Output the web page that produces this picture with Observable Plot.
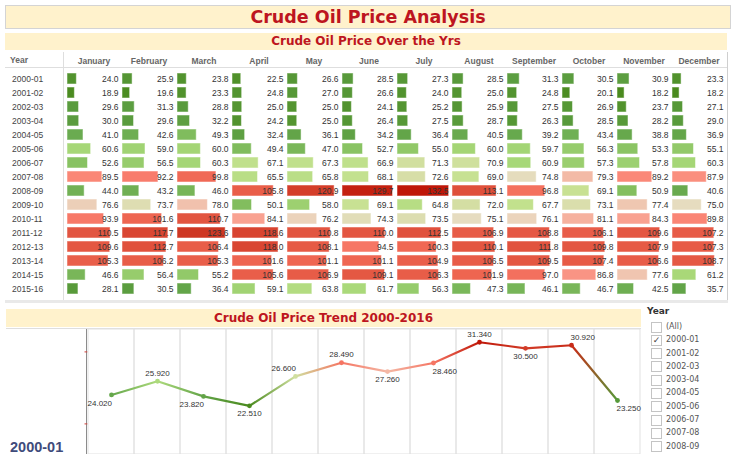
<!DOCTYPE html>
<html><head><meta charset="utf-8">
<script src="https://cdn.jsdelivr.net/npm/d3@7"></script>
<script src="https://cdn.jsdelivr.net/npm/@observablehq/plot@0.6"></script>
<style>
body{margin:0;width:736px;height:454px;overflow:hidden;background:#fff;position:relative;font-family:"DejaVu Sans",sans-serif;}
.abs{position:absolute;}
#title{left:5px;top:5px;width:724px;height:22px;background:#fff2cc;border:1px solid #d4d4d4;color:#bd1520;font:bold 17.5px "DejaVu Sans";text-align:center;line-height:22px;}
.bar{background:#fff2cc;color:#bd1520;font:bold 12px "DejaVu Sans";text-align:center;}
#sub{left:5px;top:33px;width:722px;height:17px;line-height:17px;}
#sub2{left:6px;top:309px;width:635px;height:18px;line-height:18px;}
.line{position:absolute;background:#dedede;}
#yearHead{left:10px;top:55px;font:bold 8.5px "Liberation Sans",Arial,sans-serif;color:#666;}
#bigYear{left:10px;top:439px;font:bold 14.5px "Liberation Sans",Arial,sans-serif;color:#3f4b7b;line-height:16px;}
#legend{left:647px;top:306px;width:89px;font-family:"DejaVu Sans";}
#legend .h{font:bold 9px "DejaVu Sans";color:#333;height:14px;}
#legend .it{height:13.3px;position:relative;font:8px "DejaVu Sans";color:#555;line-height:13.3px;}
#legend .box{position:absolute;left:4px;top:1.5px;width:9px;height:9px;border:1px solid #c4c4c4;background:#fff;font:9px "DejaVu Sans";line-height:9px;text-align:center;color:#444;}
#legend .lab{position:absolute;left:19px;top:0;}
</style></head>
<body>
<div id="title" class="abs">Crude Oil Price Analysis</div>
<div id="sub" class="abs bar">Crude Oil Price Over the Yrs</div>
<div id="tableHost" class="abs" style="left:0;top:52px;"></div>
<div class="line" style="left:63px;top:52px;width:1px;height:249px;"></div>
<div class="line" style="left:5px;top:67px;width:722px;height:1px;"></div>
<div class="line" style="left:727px;top:52px;width:1px;height:250px;background:#cfcfcf;"></div>
<div class="line" style="left:5px;top:300px;width:723px;height:3px;background:#e9e9e9;"></div>
<div id="yearHead" class="abs">Year</div>
<div id="sub2" class="abs bar">Crude Oil Price Trend 2000-2016</div>
<div class="line" style="left:6px;top:328px;width:635px;height:1px;"></div>
<div class="line" style="left:86px;top:329px;width:1px;height:125px;background:#8c8c8c;"></div>
<div id="trendHost" class="abs" style="left:0;top:328px;"></div>
<div id="bigYear" class="abs"></div>
<div id="legend" class="abs"></div>
<script>
// ---------- data ----------
const years = ["2000-01","2001-02","2002-03","2003-04","2004-05","2005-06","2006-07","2007-08",
  "2008-09","2009-10","2010-11","2011-12","2012-13","2013-14","2014-15","2015-16"];
const months = ["January","February","March","April","May","June","July","August",
  "September","October","November","December"];
const prices = [
  [24.0, 25.9, 23.8, 22.5, 26.6, 28.5, 27.3, 28.5, 31.3, 30.5, 30.9, 23.3],
  [18.9, 19.6, 23.3, 24.8, 27.0, 26.6, 24.0, 25.0, 24.8, 20.1, 18.2, 18.2],
  [29.6, 31.3, 28.8, 25.0, 25.0, 24.1, 25.2, 25.9, 27.5, 26.9, 23.7, 27.1],
  [30.0, 29.6, 32.2, 24.2, 25.0, 26.4, 27.5, 28.7, 26.3, 28.5, 28.2, 29.0],
  [41.0, 42.6, 49.3, 32.4, 36.1, 34.2, 36.4, 40.5, 39.2, 43.4, 38.8, 36.9],
  [60.6, 59.0, 60.0, 49.4, 47.0, 52.7, 55.0, 60.0, 59.7, 56.3, 53.3, 55.1],
  [52.6, 56.5, 60.3, 67.1, 67.3, 66.9, 71.3, 70.9, 60.9, 57.3, 57.8, 60.3],
  [89.5, 92.2, 99.8, 65.5, 65.8, 68.1, 72.6, 69.0, 74.8, 79.3, 89.2, 87.9],
  [44.0, 43.2, 46.0, 105.8, 120.9, 129.7, 132.5, 113.1, 96.8, 69.1, 50.9, 40.6],
  [76.6, 73.7, 78.0, 50.1, 58.0, 69.1, 64.8, 72.0, 67.7, 73.1, 77.4, 75.0],
  [93.9, 101.6, 110.7, 84.1, 76.2, 74.3, 73.5, 75.1, 76.1, 81.1, 84.3, 89.8],
  [110.5, 117.7, 123.6, 118.6, 110.8, 110.0, 112.5, 106.9, 108.8, 106.1, 109.6, 107.2],
  [109.6, 112.7, 106.4, 118.0, 108.1, 94.5, 100.3, 110.1, 111.8, 109.8, 107.9, 107.3],
  [105.3, 106.2, 105.3, 101.6, 101.1, 101.1, 104.9, 106.5, 109.5, 107.4, 106.6, 108.7],
  [46.6, 56.4, 55.2, 105.6, 106.9, 109.1, 106.3, 101.9, 97.0, 86.8, 77.6, 61.2],
  [28.1, 30.5, 36.4, 59.1, 63.8, 61.7, 56.3, 47.3, 46.1, 46.7, 42.5, 35.7]
];
const trendYear = "2000-01";
const trendValues = [24.02, 25.92, 23.82, 22.51, 26.60, 28.49, 27.26, 28.46, 31.34, 30.50, 30.92, 23.25];
const yTicks = [20, 30];
const legendItems = ["(All)", "2000-01","2001-02","2002-03","2003-04","2004-05","2005-06","2006-07","2007-08","2008-09"];

// ---------- diverging palette (red-green), stops in normalized units -1..1 ----------
const paletteT = [-1,-0.8,-0.6,-0.4,-0.25,-0.12,-0.05,0,0.05,0.15,0.27,0.45,0.62,0.76,0.86,1];
const paletteC = ["#4a8a1e","#5a9c3e","#6aab50","#88c262","#a8d878","#c5e290","#d6dea6","#e8dcc2",
  "#f2bfab","#f9a392","#fa8070","#ef6652","#e25540","#d84430","#cc3420","#bf1708"];
function colorOpts(vals){
  const lo = d3.min(vals), hi = d3.max(vals), mid = (lo+hi)/2, half = (hi-lo)/2;
  return {type:"linear", domain: paletteT.map(t => mid + t*half), range: paletteC, interpolate:"rgb", clamp:true};
}

// ---------- table ----------
const rows = [];
years.forEach((y,i) => months.forEach((m,j) => rows.push({year:y, month:m, value:prices[i][j]})));
const tableColor = colorOpts(rows.map(d=>d.value));

const table = Plot.plot({
  width: 736, height: 250,
  marginLeft: 65.5, marginRight: 9, marginTop: 15.5, marginBottom: 1.5,
  style: {background:"none", fontFamily:"Liberation Sans, Arial, sans-serif", fontSize:"8.5px", color:"#444"},
  fx: {domain: months, paddingInner: 0.04, paddingOuter: 0, axis: null, label: null},
  x: {domain: [0, 136], axis: null},
  y: {domain: years, padding: 0.2, axis: null},
  color: tableColor,
  marks: [
    Plot.axisFx({anchor:"top", tickSize:0, tickPadding:4, label:null, fill:"#666", fontSize:8.5, fontWeight:"bold"}),
    Plot.axisY({tickSize:0, tickPadding:0, textAnchor:"start", dx:-55.5, label:null, fill:"#444", fontSize:8.5}),
    Plot.barX(rows, {fx:"month", y:"year", x:"value", fill:"value", stroke:"#fff", strokeOpacity:0.5, strokeWidth:1}),
    Plot.text(rows, {fx:"month", y:"year", text: d => d.value.toFixed(1), frameAnchor:"right", dx:-2, fontSize:8.5, fill:"#333"})
  ]
});
document.getElementById("tableHost").appendChild(table);

// ---------- trend ----------
const n = trendValues.length;
const trendRows = months.map((m,i) => {
  const v = trendValues[i], p = trendValues[i-1], q = trendValues[i+1];
  let pos, anchor = "middle";
  if (p === undefined) { pos = q > v ? "below" : "above"; anchor = "end"; }
  else if (q === undefined) { pos = p > v ? "below" : "above"; anchor = "start"; }
  else {
    pos = v > (p+q)/2 ? "above" : "below";
    const rising = p < v && v < q, falling = p > v && v > q;
    if (rising) anchor = pos === "above" ? "end" : "start";
    else if (falling) anchor = pos === "above" ? "start" : "end";
    else {
      const l = Math.abs(v-p), r = Math.abs(v-q);
      if (r > 4*l) anchor = "start"; else if (l > 4*r) anchor = "end";
    }
  }
  return {month:m, value:v, pos, anchor};
});
const trendColorOpts = colorOpts(trendValues);
const trendColor = Plot.scale({color: trendColorOpts});

const labelMarks = [];
for (const pos of ["above","below"]) for (const anchor of ["start","middle","end"]) {
  labelMarks.push(Plot.text(trendRows.filter(d => d.pos===pos && d.anchor===anchor), {
    x:"month", y:"value", text: d => d.value.toFixed(3),
    dy: pos==="above" ? -8 : 8, textAnchor: anchor, dx: anchor==="start" ? -1 : anchor==="end" ? 0.5 : 0,
    fontSize: 8, fill:"#333"
  }));
}

const trend = Plot.plot({
  width: 645, height: 126,
  marginLeft: 87, marginRight: 4, marginTop: 1, marginBottom: 0,
  style: {background:"none", fontFamily:"Liberation Sans, Arial, sans-serif", fontSize:"8px", overflow:"visible"},
  x: {domain: months, padding: 0, axis: null},
  y: {domain: [15.75, 33.11], axis: null},
  color: trendColorOpts,
  marks: [
    Plot.cell(months, {x: d => d, fill:"none", stroke:"#e1e1e1", inset:0}),
    Plot.tickY(yTicks, {y: d => d, x: () => "January", stroke:"#d0413a", inset:0, dx:-3.5, insetRight: 43.2}),
    Plot.line(trendRows, {x:"month", y:"value", stroke:"url(#trendGrad)", strokeWidth:2.2}),
    Plot.dot(trendRows, {x:"month", y:"value", fill:"value", r:2.4}),
    ...labelMarks
  ]
});
const ns = "http://www.w3.org/2000/svg";
const defs = document.createElementNS(ns, "defs");
const lg = document.createElementNS(ns, "linearGradient");
lg.setAttribute("id","trendGrad"); lg.setAttribute("x1","0"); lg.setAttribute("x2","1");
lg.setAttribute("y1","0"); lg.setAttribute("y2","0");
trendValues.forEach((v,i) => {
  const s = document.createElementNS(ns, "stop");
  s.setAttribute("offset", String(i/(n-1)));
  s.setAttribute("stop-color", trendColor.apply(v));
  lg.appendChild(s);
});
defs.appendChild(lg);
trend.insertBefore(defs, trend.firstChild);
document.getElementById("trendHost").appendChild(trend);
document.getElementById("bigYear").textContent = trendYear;

// ---------- legend ----------
const leg = document.getElementById("legend");
leg.innerHTML = '<div class="h">Year</div>' + legendItems.map(it =>
  `<div class="it"><div class="box">${it===trendYear ? "✓" : ""}</div><div class="lab">${it}</div></div>`).join("");
</script>
</body></html>
